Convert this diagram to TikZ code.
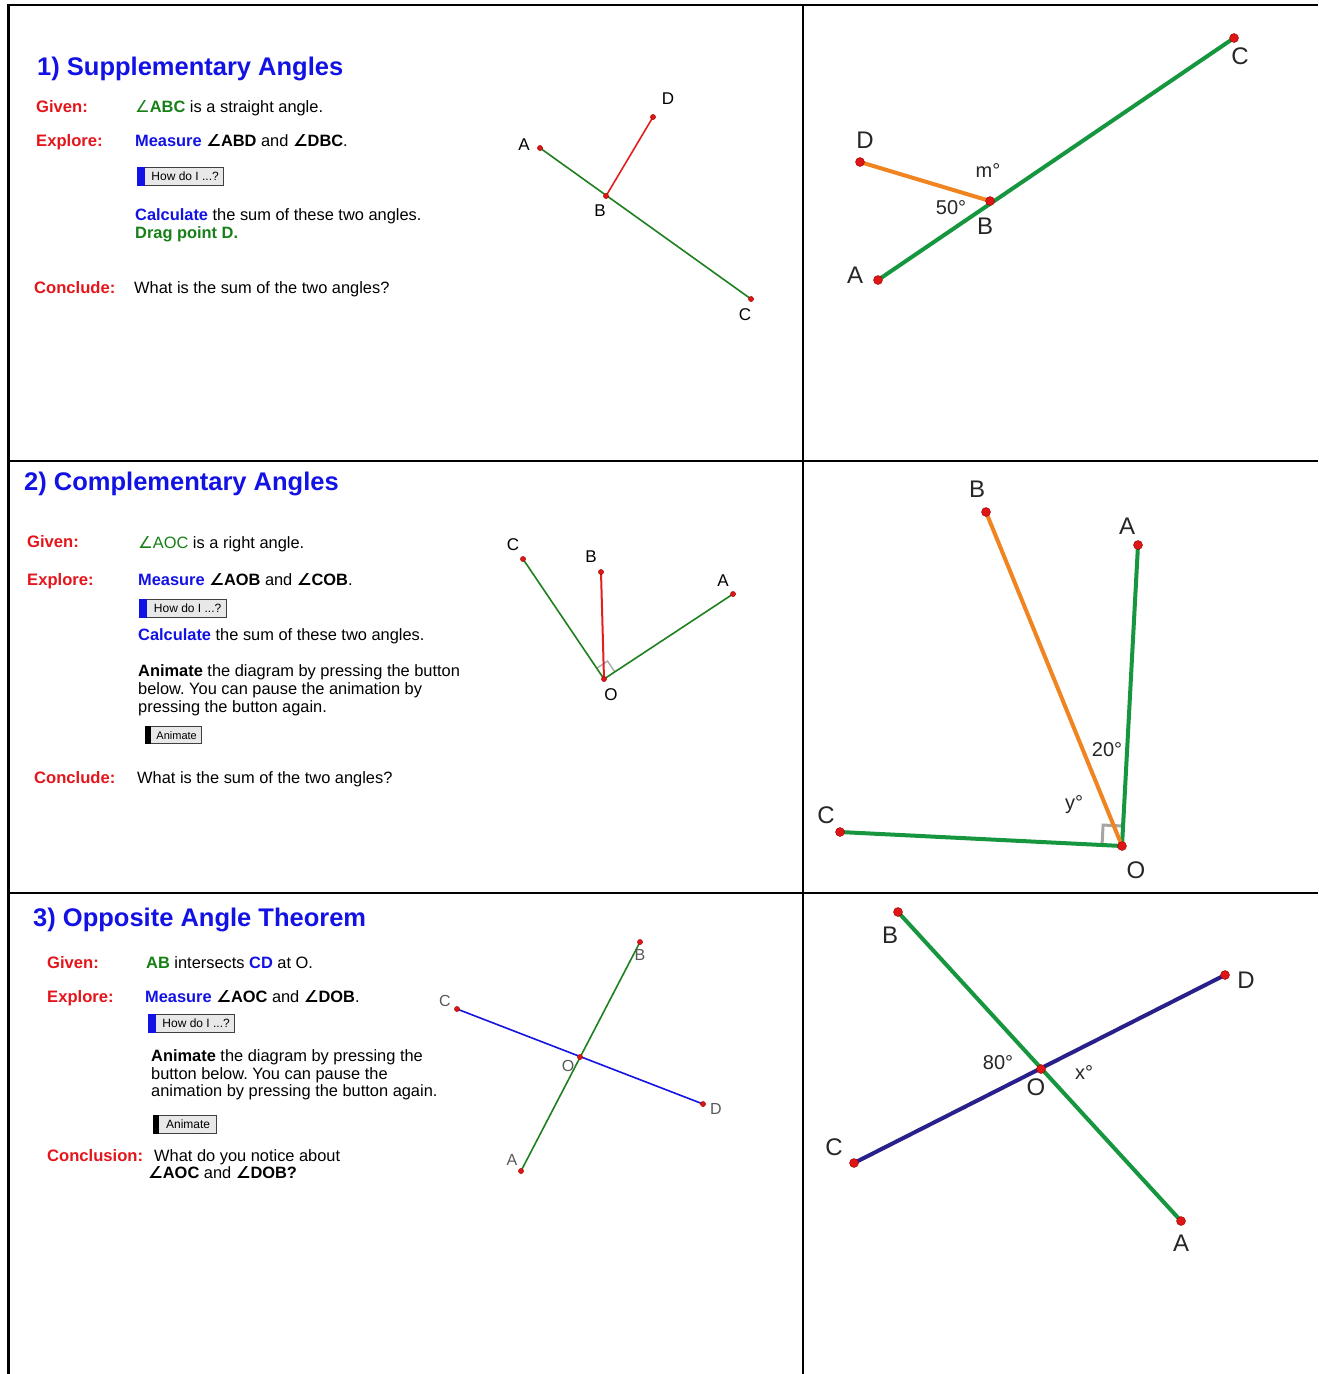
\documentclass[tikz,border=0pt]{standalone}
\usepackage{fontspec}
\setmainfont{Liberation Sans}
\newfontfamily\angfont{DejaVu Sans}
\usetikzlibrary{calc}
\definecolor{tred}{RGB}{228,22,28}
\definecolor{tblue}{RGB}{18,18,228}
\definecolor{tgreen}{RGB}{22,128,22}
\definecolor{dgreen}{RGB}{30,128,30}
\definecolor{dred}{RGB}{228,30,30}
\definecolor{dblue}{RGB}{20,20,225}
\definecolor{rgreen}{RGB}{22,150,62}
\definecolor{rorange}{RGB}{240,132,32}
\definecolor{rnavy}{RGB}{42,32,140}
\definecolor{dotred}{RGB}{222,22,22}
\definecolor{btngray}{RGB}{232,232,232}
\definecolor{mgray}{RGB}{165,165,165}
\newcommand\ang{{\angfont ∠}}
\frenchspacing
\begin{document}
\begin{tikzpicture}[x=1pt,y=-1pt,
  txt/.style={anchor=base west, inner sep=0pt, font=\fontsize{16.4}{18}\selectfont},
  head/.style={anchor=base west, inner sep=0pt, text=tred, font=\fontsize{16.6}{18}\selectfont\bfseries},
  ttl/.style={anchor=base west, inner sep=0pt, text=tblue, font=\fontsize{25.5}{30}\selectfont\bfseries},
  btn/.style={anchor=north west, draw=black!75, fill=btngray, line width=1.3pt, inner sep=0pt,
     minimum height=18pt, font=\fontsize{12}{12}\selectfont},
  plbl/.style={inner sep=0pt, font=\fontsize{17}{17}\selectfont},
  glbl/.style={inner sep=0pt, text=black!65, font=\fontsize{16}{16}\selectfont},
  rlbl/.style={inner sep=0pt, text=black!85, font=\fontsize{24}{24}\selectfont},
  albl/.style={inner sep=0pt, text=black!85, font=\fontsize{20}{20}\selectfont},
  sline/.style={line width=1.6pt},
  bline/.style={line width=4pt},
  sdot/.style={fill=dotred, draw=red!60!black, line width=0.4pt},
]
\useasboundingbox (0,0) rectangle (1318,1374);
\fill[white] (0,0) rectangle (1318,1374);
% frame
\draw[line width=2.2pt] (1318,5) -- (8.5,5) -- (8.5,1374);
\draw[line width=2.2pt] (803,5) -- (803,1374);
\draw[line width=2.2pt] (8.5,461) -- (1318,461);
\draw[line width=2.2pt] (8.5,893) -- (1318,893);

% ===== Panel 1 =====
\node[ttl] (t1) at (37,75) {1) Supplementary Angles};
\node[head] (g1) at (36,112) {Given:};
\node[txt] (g1t) at (135,112) {\textcolor{tgreen}{\ang\textbf{ABC}} is a straight angle.};
\node[head] (e1) at (36,146) {Explore:};
\node[txt] (e1t) at (135,146) {\textcolor{tblue}{\textbf{Measure}} \textbf{\ang ABD} and \textbf{\ang DBC}.};
\node[btn, minimum width=86pt] (b1) at (137,167) {\hspace{9pt}How do I ...?};
\fill[tblue] (b1.north west) rectangle ($(b1.south west)+(8,0)$);
\node[txt] (c1t) at (135,220) {\textcolor{tblue}{\textbf{Calculate}} the sum of these two angles.};
\node[txt, text=tgreen, font=\fontsize{16.4}{18}\selectfont\bfseries] (d1t) at (135,238) {Drag point D.};
\node[head] (k1) at (34,293) {Conclude:};
\node[txt] (k1t) at (134,293) {What is the sum of the two angles?};

% diagram 1 small
\coordinate (A1) at (540,148);
\coordinate (B1) at (606,196);
\coordinate (C1) at (751,299);
\coordinate (D1) at (653,117);
\draw[dgreen, sline] (A1) -- (C1);
\draw[dred, sline] (B1) -- (D1);
\foreach \p in {A1,B1,C1,D1} \fill[sdot] (\p) circle (2.6);
\node[plbl] (lA1) at (524,145) {A};
\node[plbl] (lB1) at (600,211) {B};
\node[plbl] (lC1) at (745,315) {C};
\node[plbl] (lD1) at (668,99) {D};

% diagram 1 big
\coordinate (A1r) at (878,280);
\coordinate (B1r) at (990,201);
\coordinate (C1r) at (1234,38);
\coordinate (D1r) at (860,162);
\draw[rgreen, bline] (A1r) -- (C1r);
\draw[rorange, bline] (D1r) -- (B1r);
\foreach \p in {A1r,B1r,C1r,D1r} \fill[sdot] (\p) circle (4.5);
\node[rlbl] (lA1r) at (855,275) {A};
\node[rlbl] (lB1r) at (985,226) {B};
\node[rlbl] (lC1r) at (1240,56) {C};
\node[rlbl] (lD1r) at (865,140) {D};
\node[albl] (m1r) at (988,171) {m°};
\node[albl] (f1r) at (951,208) {50°};

% ===== Panel 2 =====
\node[ttl] (t2) at (24,490) {2) Complementary Angles};
\node[head] (g2) at (27,547) {Given:};
\node[txt] (g2t) at (138,548) {\textcolor{tgreen}{\ang AOC} is a right angle.};
\node[head] (e2) at (27,585) {Explore:};
\node[txt] (e2t) at (138,585) {\textcolor{tblue}{\textbf{Measure}} \textbf{\ang AOB} and \textbf{\ang COB}.};
\node[btn, minimum width=87pt] (b2) at (139,599) {\hspace{9pt}How do I ...?};
\fill[tblue] (b2.north west) rectangle ($(b2.south west)+(8,0)$);
\node[txt] (c2t) at (138,640) {\textcolor{tblue}{\textbf{Calculate}} the sum of these two angles.};
\node[txt] (n2a) at (138,676) {\textbf{Animate} the diagram by pressing the button};
\node[txt] (n2b) at (138,694) {below. You can pause the animation by};
\node[txt] (n2c) at (138,712) {pressing the button again.};
\node[btn, minimum width=56pt, minimum height=17pt, font=\fontsize{11}{11}\selectfont] (a2) at (145,726) {\hspace{6pt}Animate};
\fill[black] (a2.north west) rectangle ($(a2.south west)+(6,0)$);
\node[head] (k2) at (34,783) {Conclude:};
\node[txt] (k2t) at (137,783) {What is the sum of the two angles?};

% diagram 2 small
\coordinate (C2) at (523,559);
\coordinate (B2) at (601,572);
\coordinate (A2) at (733,594);
\coordinate (O2) at (604,679);
\coordinate (q1) at ($(O2)!13pt!(A2)$);
\coordinate (q2) at ($(O2)!13pt!(C2)$);
\draw[mgray, line width=1.3pt] (q1) -- ($(q1)+(q2)-(O2)$) -- (q2);
\draw[dgreen, sline] (C2) -- (O2) -- (A2);
\draw[dred, line width=2pt] (B2) -- (O2);
\foreach \p in {A2,B2,C2,O2} \fill[sdot] (\p) circle (2.6);
\node[plbl] (lC2) at (513,545) {C};
\node[plbl] (lB2) at (591,557) {B};
\node[plbl] (lA2) at (723,581) {A};
\node[plbl] (lO2) at (611,695) {O};

% diagram 2 big
\coordinate (B2r) at (986,512);
\coordinate (A2r) at (1138,545);
\coordinate (C2r) at (840,832);
\coordinate (O2r) at (1122,846);
\coordinate (r1) at ($(O2r)!20pt!(A2r)$);
\coordinate (r2) at ($(O2r)!20pt!(C2r)$);
\draw[mgray, line width=3pt] (r1) -- ($(r1)+(r2)-(O2r)$) -- (r2);
\draw[rgreen, bline] (C2r) -- (O2r) -- (A2r);
\draw[rorange, bline] (B2r) -- (O2r);
\foreach \p in {A2r,B2r,C2r,O2r} \fill[sdot] (\p) circle (4.5);
\node[rlbl] (lB2r) at (977,489) {B};
\node[rlbl] (lA2r) at (1127,526) {A};
\node[rlbl] (lC2r) at (826,815) {C};
\node[rlbl] (lO2r) at (1136,870) {O};
\node[albl] (w2r) at (1107,750) {20°};
\node[albl] (y2r) at (1074,805) {y°};

% ===== Panel 3 =====
\node[ttl] (t3) at (33,926) {3) Opposite Angle Theorem};
\node[head] (g3) at (47,968) {Given:};
\node[txt] (g3t) at (146,968) {\textcolor{tgreen}{\textbf{AB}} intersects \textcolor{tblue}{\textbf{CD}} at O.};
\node[head] (e3) at (47,1002) {Explore:};
\node[txt] (e3t) at (145,1002) {\textcolor{tblue}{\textbf{Measure}} \textbf{\ang AOC} and \textbf{\ang DOB}.};
\node[btn, minimum width=86pt] (b3) at (148,1014) {\hspace{9pt}How do I ...?};
\fill[tblue] (b3.north west) rectangle ($(b3.south west)+(8,0)$);
\node[txt] (n3a) at (151,1061) {\textbf{Animate} the diagram by pressing the};
\node[txt] (n3b) at (151,1079) {button below. You can pause the};
\node[txt] (n3c) at (151,1096) {animation by pressing the button again.};
\node[btn, minimum width=63pt, minimum height=18pt, font=\fontsize{12}{12}\selectfont] (a3) at (153,1115) {\hspace{6pt}Animate};
\fill[black] (a3.north west) rectangle ($(a3.south west)+(6,0)$);
\node[head] (k3) at (47,1161) {Conclusion:};
\node[txt] (k3t) at (154,1161) {What do you notice about};
\node[txt] (k3u) at (148,1178) {\textbf{\ang AOC} and \textbf{\ang DOB?}};

% diagram 3 small
\coordinate (B3) at (640,942);
\coordinate (A3) at (521,1171);
\coordinate (C3) at (457,1009);
\coordinate (D3) at (703,1104);
\coordinate (O3) at (580,1057);
\draw[dgreen, sline] (A3) -- (B3);
\draw[dblue, sline] (C3) -- (D3);
\foreach \p in {A3,B3,C3,D3,O3} \fill[sdot] (\p) circle (2.6);
\node[glbl] (lB3) at (640,955) {B};
\node[glbl] (lA3) at (512,1160) {A};
\node[glbl] (lC3) at (445,1001) {C};
\node[glbl] (lD3) at (716,1109) {D};
\node[glbl] (lO3) at (568,1066) {O};

% diagram 3 big
\coordinate (B3r) at (898,912);
\coordinate (A3r) at (1181,1221);
\coordinate (C3r) at (854,1163);
\coordinate (D3r) at (1225,975);
\coordinate (O3r) at (1041,1069);
\draw[rgreen, bline] (B3r) -- (A3r);
\draw[rnavy, bline] (C3r) -- (D3r);
\foreach \p in {A3r,B3r,C3r,D3r,O3r} \fill[sdot] (\p) circle (4.5);
\node[rlbl] (lB3r) at (890,935) {B};
\node[rlbl] (lA3r) at (1181,1243) {A};
\node[rlbl] (lC3r) at (834,1147) {C};
\node[rlbl] (lD3r) at (1246,980) {D};
\node[rlbl] (lO3r) at (1036,1087) {O};
\node[albl] (e3r) at (998,1063) {80°};
\node[albl] (x3r) at (1084,1073) {x°};
\end{tikzpicture}
\end{document}
